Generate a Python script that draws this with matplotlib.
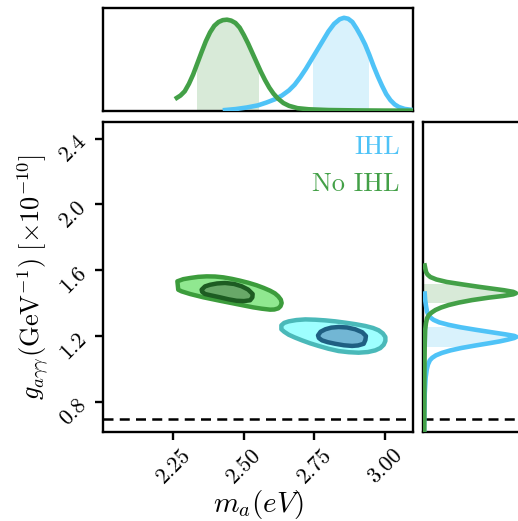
import numpy as np
import matplotlib
matplotlib.use("Agg")
import matplotlib.pyplot as plt
from matplotlib.patches import Polygon

plt.rcParams['font.family'] = 'serif'
plt.rcParams['font.serif'] = ['cmr10']
plt.rcParams['mathtext.fontset'] = 'cm'
plt.rcParams['axes.formatter.use_mathtext'] = True

# marginal of m_a
m_noihl = [2.262, 2.275, 2.29, 2.305, 2.32, 2.335, 2.35, 2.365, 2.38, 2.395,
           2.41, 2.425, 2.44, 2.455, 2.47, 2.485, 2.50, 2.515, 2.53, 2.545,
           2.56, 2.575, 2.59, 2.605, 2.62, 2.64, 2.66, 2.69, 2.73, 2.8,
           2.9, 3.0, 3.1]
p_noihl = [0.14, 0.165, 0.21, 0.29, 0.39, 0.51, 0.63, 0.745, 0.84, 0.91,
           0.95, 0.97, 0.975, 0.965, 0.94, 0.89, 0.81, 0.72, 0.62, 0.52,
           0.42, 0.33, 0.25, 0.185, 0.135, 0.085, 0.055, 0.03, 0.018, 0.01,
           0.006, 0.004, 0.003]
m_ihl = [2.433, 2.47, 2.51, 2.55, 2.58, 2.61, 2.635, 2.66, 2.68, 2.70,
         2.72, 2.74, 2.76, 2.78, 2.80, 2.82, 2.84, 2.855, 2.87, 2.885,
         2.90, 2.915, 2.93, 2.945, 2.96, 2.975, 2.99, 3.005, 3.02, 3.035,
         3.05, 3.07, 3.1]
p_ihl = [0.01, 0.02, 0.037, 0.06, 0.09, 0.125, 0.165, 0.22, 0.28, 0.36,
         0.45, 0.55, 0.65, 0.75, 0.85, 0.93, 0.98, 0.995, 0.985, 0.95,
         0.88, 0.80, 0.71, 0.60, 0.48, 0.37, 0.27, 0.18, 0.115, 0.07,
         0.042, 0.022, 0.01]
m_band_noihl = (2.334, 2.553)
m_band_ihl = (2.745, 2.944)

# marginal of g
g_noihl = [1.63, 1.61, 1.59, 1.575, 1.56, 1.545, 1.53, 1.515, 1.50, 1.49,
           1.48, 1.47, 1.462, 1.455, 1.445, 1.435, 1.42, 1.405, 1.39, 1.375,
           1.36, 1.345, 1.33, 1.31, 1.28, 1.24, 1.15, 1.0, 0.62]
q_noihl = [0.015, 0.022, 0.03, 0.045, 0.075, 0.14, 0.25, 0.42, 0.60, 0.73,
           0.86, 0.96, 0.99, 0.96, 0.85, 0.70, 0.52, 0.38, 0.27, 0.19,
           0.13, 0.09, 0.06, 0.04, 0.028, 0.02, 0.015, 0.012, 0.01]
g_ihl = [1.46, 1.42, 1.38, 1.35, 1.33, 1.315, 1.30, 1.285, 1.27, 1.255,
         1.24, 1.225, 1.212, 1.203, 1.197, 1.19, 1.18, 1.17, 1.16, 1.145,
         1.13, 1.115, 1.10, 1.085, 1.07, 1.055, 1.03, 1.0, 0.95, 0.85,
         0.7, 0.62]
q_ihl = [0.015, 0.02, 0.03, 0.04, 0.055, 0.075, 0.11, 0.17, 0.27, 0.40,
         0.56, 0.73, 0.88, 0.97, 0.995, 0.97, 0.90, 0.82, 0.72, 0.56,
         0.41, 0.29, 0.20, 0.135, 0.095, 0.07, 0.05, 0.037, 0.025, 0.015,
         0.01, 0.008]
g_band_noihl = (1.405, 1.518)
g_band_ihl = (1.137, 1.255)

# 2D contours (68% / 95%)
noihl_95_m = [2.264, 2.285, 2.309, 2.338, 2.368, 2.398, 2.427, 2.457, 2.486, 2.516,
              2.545, 2.570, 2.593, 2.610, 2.622, 2.631, 2.634, 2.630, 2.622, 2.608,
              2.593, 2.563, 2.533, 2.474, 2.415, 2.356, 2.309, 2.279, 2.267]
noihl_95_g = [1.534, 1.547, 1.554, 1.561, 1.564, 1.563, 1.558, 1.549, 1.538, 1.525,
              1.510, 1.494, 1.477, 1.461, 1.443, 1.423, 1.402, 1.383, 1.370, 1.363,
              1.362, 1.368, 1.376, 1.396, 1.416, 1.437, 1.457, 1.473, 1.483]
noihl_68_m = [2.350, 2.362, 2.380, 2.405, 2.433, 2.465, 2.492, 2.515, 2.531,
              2.530, 2.522, 2.500, 2.474, 2.445, 2.415, 2.385, 2.362, 2.352]
noihl_68_g = [1.483, 1.503, 1.513, 1.521, 1.524, 1.518, 1.504, 1.484, 1.457,
              1.436, 1.419, 1.414, 1.416, 1.425, 1.437, 1.448, 1.457, 1.470]
ihl_95_m = [2.633, 2.643, 2.659, 2.686, 2.718, 2.754, 2.789, 2.825, 2.860, 2.896,
            2.931, 2.958, 2.978, 2.993, 3.002, 3.002, 2.996, 2.984, 2.966, 2.940,
            2.907, 2.872, 2.836, 2.800, 2.765, 2.735, 2.706, 2.681, 2.659, 2.643,
            2.633]
ihl_95_g = [1.267, 1.282, 1.291, 1.299, 1.303, 1.301, 1.297, 1.291, 1.283, 1.274,
            1.263, 1.251, 1.237, 1.218, 1.196, 1.172, 1.149, 1.129, 1.115, 1.105,
            1.101, 1.104, 1.111, 1.125, 1.142, 1.158, 1.176, 1.193, 1.210, 1.228,
            1.243]
ihl_68_m = [2.763, 2.772, 2.789, 2.810, 2.836, 2.866, 2.895, 2.920, 2.933,
            2.931, 2.925, 2.905, 2.884, 2.855, 2.824, 2.797, 2.777, 2.766]
ihl_68_g = [1.206, 1.228, 1.243, 1.253, 1.257, 1.254, 1.243, 1.225, 1.202,
            1.178, 1.155, 1.145, 1.142, 1.146, 1.155, 1.165, 1.176, 1.190]

g_limit = 0.7

xticks = [2.25, 2.50, 2.75, 3.00]
yticks = [0.8, 1.2, 1.6, 2.0, 2.4]

c_green = '#43a047'
c_blue = '#4fc3f7'

fig = plt.figure(figsize=(5.18, 5.21), dpi=100)
ax = fig.add_axes([0.1988, 0.1708, 0.5985, 0.595])
axt = fig.add_axes([0.1988, 0.787, 0.5985, 0.1977])
axr = fig.add_axes([0.8172, 0.1708, 0.1988, 0.595])

for a in (ax, axt, axr):
    for s in a.spines.values():
        s.set_linewidth(1.7)

# main panel
def contour(a, mm, gg, face, edge, z):
    a.add_patch(Polygon(np.column_stack([mm, gg]), closed=True, facecolor=face,
                        edgecolor=edge, lw=3.2, joinstyle='round', zorder=z))

contour(ax, noihl_95_m, noihl_95_g, '#90e890', '#3c9c3c', 2)
contour(ax, noihl_68_m, noihl_68_g, '#68a868', '#1d5c22', 3)
contour(ax, ihl_95_m, ihl_95_g, '#9effff', '#4ab9b9', 2)
contour(ax, ihl_68_m, ihl_68_g, '#72b6d4', '#1f5f82', 3)

ax.axhline(g_limit, color='k', ls='--', lw=1.8, dashes=(4, 2.5))
ax.set_xlim(2.0, 3.1)
ax.set_ylim(0.62, 2.5)
ax.set_xticks(xticks)
ax.set_xticklabels(['%.2f' % t for t in xticks], rotation=45, fontsize=16)
ax.set_yticks(yticks)
ax.set_yticklabels(['%.1f' % t for t in yticks], rotation=45, fontsize=16)
ax.tick_params(length=6, width=1.7)
ax.set_xlabel(r'$m_a(eV)$', fontsize=21, labelpad=1)
ax.set_ylabel(r'$g_{a\gamma\gamma}(\mathrm{GeV}^{-1})\ [\times 10^{-10}]$', fontsize=19)
ax.text(0.958, 0.92, 'IHL', color=c_blue, fontsize=19, ha='right', va='center',
        transform=ax.transAxes)
ax.text(0.958, 0.80, 'No IHL', color=c_green, fontsize=19, ha='right', va='center',
        transform=ax.transAxes)

# top panel
for mm, pp, band, col, shade in [(m_ihl, p_ihl, m_band_ihl, c_blue, '#d9f2fc'),
                                 (m_noihl, p_noihl, m_band_noihl, c_green, '#d8ead8')]:
    under = axt.fill_between(mm, 0, pp, color='none', lw=0)
    span = axt.axvspan(band[0], band[1], color=shade, lw=0, zorder=1)
    span.set_clip_path(under.get_paths()[0], axt.transData)
    axt.plot(mm, pp, color=col, lw=3.3, zorder=3, solid_joinstyle='round')
axt.set_xlim(2.0, 3.1)
axt.set_ylim(0, 1.1)
axt.set_xticks([])
axt.set_yticks([])

# right panel
for gg, qq, band, col, shade in [(g_ihl, q_ihl, g_band_ihl, c_blue, '#d9f2fc'),
                                 (g_noihl, q_noihl, g_band_noihl, c_green, '#d8ead8')]:
    under = axr.fill_betweenx(gg, 0, qq, color='none', lw=0)
    span = axr.axhspan(band[0], band[1], color=shade, lw=0, zorder=1)
    span.set_clip_path(under.get_paths()[0], axr.transData)
    axr.plot(qq, gg, color=col, lw=3.3, zorder=3, solid_joinstyle='round')
axr.axhline(g_limit, color='k', ls='--', lw=1.8, dashes=(4, 2.5))
axr.set_ylim(0.62, 2.5)
axr.set_xlim(0, 1.1)
axr.set_xticks([])
axr.set_yticks([])

fig.savefig('out.png', dpi=100)
